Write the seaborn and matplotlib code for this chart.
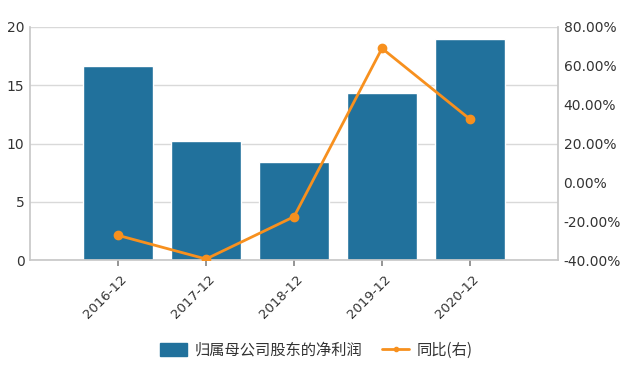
import pandas as pd
import seaborn as sns
import matplotlib.pyplot as plt
import matplotlib.transforms as mtransforms
from matplotlib.ticker import FuncFormatter
from matplotlib.lines import Line2D
from matplotlib.patches import Patch

periods = ["2016-12", "2017-12", "2018-12", "2019-12", "2020-12"]
profit = [16.63, 10.19, 8.44, 14.36, 18.97]
yoy = [-27.3, -39.5, -17.7, 69.0, 32.5]

barColor = "#21719c"
lineColor = "#f7901e"

sns.set_theme(style="white")
plt.rcParams["font.family"] = ["Noto Sans CJK SC", "DejaVu Sans"]

df = pd.DataFrame({"期间": periods, "净利润": profit, "同比": yoy})

fig = plt.figure(figsize=(6.33, 3.69), dpi=100)
ax = fig.add_axes([30 / 633, 1 - 260 / 369, 528 / 633, 233 / 369])

sns.barplot(x="期间", y="净利润", data=df, color=barColor, width=0.8,
            saturation=1, ax=ax, zorder=2)
ax.set_xlim(-1, 5)
ax.set_ylim(0, 20)
ax.set_yticks([0, 5, 10, 15, 20])
ax.yaxis.grid(True, color="#d9d9d9", linewidth=1, zorder=0)
ax.set_xlabel("")
ax.set_ylabel("")
for s in ["top", "right"]:
    ax.spines[s].set_visible(False)
for s in ["left", "bottom"]:
    ax.spines[s].set_color("#c8c8c8")
ax.tick_params(axis="y", labelsize=10, colors="#333333", length=0, pad=4)
ax.tick_params(axis="x", labelsize=9.5, colors="#333333", length=4,
               direction="out", bottom=True, color="#888888", pad=5)
shift = mtransforms.ScaledTranslation(2 / 100, 0, fig.dpi_scale_trans)
for lbl in ax.get_xticklabels():
    lbl.set_family("DejaVu Sans")
    lbl.set_rotation(45)
    lbl.set_ha("right")
    lbl.set_rotation_mode("anchor")
    lbl.set_transform(lbl.get_transform() + shift)
for lbl in ax.get_yticklabels():
    lbl.set_family("DejaVu Sans")

ax2 = ax.twinx()
ax2.plot(range(len(periods)), df["同比"], color=lineColor, linewidth=2,
         marker="o", markersize=6, zorder=3)
ax2.set_ylim(-40, 80)
ax2.set_yticks([-40, -20, 0, 20, 40, 60, 80])
ax2.yaxis.set_major_formatter(FuncFormatter(lambda v, p: f"{v:.2f}%"))
ax2.tick_params(axis="y", labelsize=10, colors="#333333", length=0, pad=4)
for lbl in ax2.get_yticklabels():
    lbl.set_family("DejaVu Sans")
for s in ["top", "left", "bottom"]:
    ax2.spines[s].set_visible(False)
ax2.spines["right"].set_color("#c8c8c8")
ax2.grid(False)

handles = [Patch(color=barColor),
           Line2D([0], [0], color=lineColor, linewidth=2, marker="o", markersize=3)]
fig.legend(handles, ["归属母公司股东的净利润", "同比(右)"], loc="center",
           bbox_to_anchor=(0.5, 1 - 350 / 369), ncol=2, frameon=False,
           fontsize=11, labelcolor="#333333", handlelength=1.75,
           handleheight=0.9, columnspacing=1.3, handletextpad=0.5)

fig.savefig("out.png", dpi=100)
